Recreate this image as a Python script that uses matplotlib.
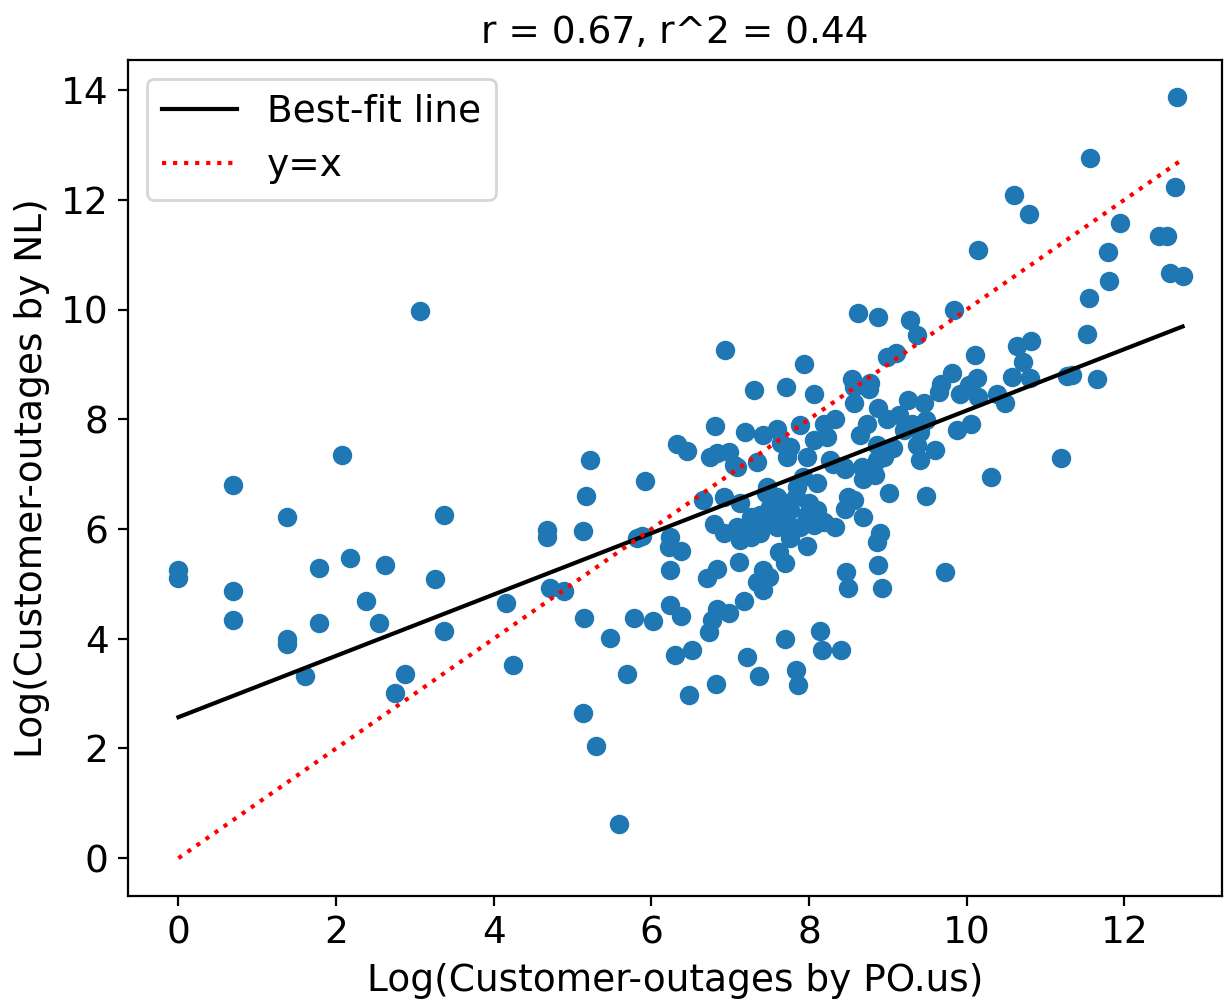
import matplotlib
matplotlib.use("Agg")
import matplotlib.pyplot as plt
import numpy as np

plt.rcParams['font.size'] = 13.5

# log customer-outages, PO.us (x) vs NL (y)
x_po = [
    # low end
    0.00, 0.00, 0.69, 0.69, 0.69, 1.38, 1.38, 1.38, 1.60, 1.78, 1.78, 2.08, 2.18, 2.38,
    2.55, 2.62, 2.75, 2.88, 3.07, 3.25, 3.37, 3.37, 4.16, 4.25, 4.68, 4.68, 4.72, 4.89,
    5.22, 5.17, 5.13, 5.15, 5.13, 5.30, 5.48, 5.69, 5.59, 5.78, 5.82, 5.88, 5.92, 6.02,
    # upper middle
    6.94, 7.94, 8.62, 8.88, 8.99, 9.10,
    7.30, 7.71, 8.06, 8.55, 8.78, 8.57, 8.76, 8.57, 8.88, 8.99, 9.14,
    6.81, 7.19, 7.42, 7.59, 7.89, 8.19, 8.33, 8.74, 8.65, 8.06, 8.23,
    6.32, 6.45, 6.74, 6.83, 6.98,
    7.05, 7.34, 7.64, 7.76, 7.72, 7.97, 8.27, 8.44, 8.31,
    8.86, 9.07, 8.95, 8.86, 8.46, 8.67, 8.69, 8.84, 9.01, 8.50, 8.57, 8.46, 8.69,
    # dense cluster
    7.09, 8.10, 7.47, 7.85, 7.93,
    6.66, 6.92, 7.13, 7.45, 7.60, 7.72, 7.83, 7.51, 7.64, 7.76, 8.00, 8.10, 7.97, 8.19,
    8.06, 8.33, 7.26, 7.38, 7.30, 7.47, 7.59, 7.76, 7.89, 6.79, 6.92, 7.09, 7.13, 7.26,
    7.38, 7.76, 7.97, 7.62, 7.70, 7.11, 6.83, 6.71, 7.42, 7.49, 7.34, 7.42,
    8.47, 8.49, 8.90, 8.86, 6.24, 6.22, 6.37, 6.24, 8.88, 8.93, 9.72,
    # lower middle
    6.24, 6.37, 6.83, 6.98, 6.77, 6.73, 7.17, 8.14, 7.69, 8.17, 8.40, 6.30, 6.52, 7.21,
    7.36, 7.84, 7.86, 6.82, 6.48,
    # high end
    12.67, 11.57, 12.65, 10.60, 10.79, 11.94, 12.44, 12.54, 10.14, 11.79, 11.81, 12.58,
    12.74, 11.55, 9.28, 9.37, 9.84, 11.53, 10.64, 10.82, 10.10, 10.72, 9.81, 10.58,
    10.80, 11.27, 11.34, 11.65, 9.67, 9.65, 10.13, 10.03, 9.92, 9.25, 9.46, 10.15,
    10.39, 10.49, 9.31, 9.48, 9.20, 9.41, 9.88, 10.05, 9.37, 9.60, 9.41, 11.20, 10.31,
    9.49,
]
y_nl = [
    5.25, 5.11, 6.81, 4.87, 4.35, 6.22, 3.99, 3.91, 3.32, 5.29, 4.29, 7.35, 5.47, 4.69,
    4.29, 5.35, 3.01, 3.36, 9.97, 5.09, 6.25, 4.14, 4.66, 3.52, 5.98, 5.86, 4.92, 4.87,
    7.25, 6.60, 5.97, 4.38, 2.64, 2.05, 4.01, 3.36, 0.62, 4.38, 5.84, 5.88, 6.88, 4.32,
    9.27, 9.00, 9.94, 9.87, 9.14, 9.20,
    8.53, 8.59, 8.47, 8.74, 8.66, 8.59, 8.56, 8.29, 8.20, 8.01, 8.08,
    7.87, 7.77, 7.71, 7.83, 7.89, 7.92, 8.01, 7.92, 7.71, 7.62, 7.68,
    7.55, 7.42, 7.32, 7.39, 7.41,
    7.16, 7.22, 7.56, 7.50, 7.32, 7.32, 7.26, 7.13, 7.19,
    7.53, 7.47, 7.32, 7.26, 7.10, 7.13, 6.92, 6.98, 6.66, 6.59, 6.53, 6.37, 6.22,
    7.13, 6.83, 6.77, 6.77, 6.95,
    6.53, 6.59, 6.47, 6.65, 6.59, 6.47, 6.59, 6.40, 6.28, 6.34, 6.47, 6.34, 6.25, 6.13,
    6.07, 6.04, 6.22, 6.25, 6.04, 6.13, 6.04, 6.04, 6.04, 6.10, 5.92, 6.04, 5.80, 5.86,
    5.92, 5.83, 5.69, 5.58, 5.38, 5.40, 5.28, 5.10, 5.25, 5.13, 5.04, 4.89,
    5.22, 4.92, 5.92, 5.77, 5.86, 5.67, 5.60, 5.26, 5.34, 4.92, 5.22,
    4.61, 4.41, 4.55, 4.47, 4.34, 4.13, 4.68, 4.14, 4.00, 3.79, 3.79, 3.70, 3.79, 3.67,
    3.32, 3.43, 3.15, 3.17, 2.98,
    13.87, 12.77, 12.24, 12.09, 11.74, 11.58, 11.34, 11.34, 11.08, 11.05, 10.52, 10.66,
    10.61, 10.21, 9.81, 9.53, 9.99, 9.55, 9.34, 9.43, 9.17, 9.05, 8.84, 8.77,
    8.76, 8.79, 8.80, 8.74, 8.64, 8.50, 8.75, 8.62, 8.47, 8.35, 8.29, 8.41,
    8.47, 8.29, 7.92, 7.98, 7.80, 7.77, 7.80, 7.92, 7.53, 7.44, 7.26, 7.29, 6.94,
    6.60,
]

# least-squares fit and correlation
fit_slope = 0.559
fit_intercept = 2.57
r_value = 0.67
r_squared = 0.44

x = np.array(x_po)
y = np.array(y_nl)
x_line = np.array([x.min(), x.max()])

fig = plt.figure(figsize=(6.125, 5), dpi=200)
ax = fig.add_axes([128 / 1225, 104 / 1000, 1094 / 1225, 836 / 1000])

ax.scatter(x, y)
ax.plot(x_line, fit_intercept + fit_slope * x_line, color='k', label='Best-fit line')
ax.plot(x_line, x_line, color='r', linestyle=':', label='y=x')

ax.set_xlim(-0.64, 13.24)
ax.set_ylim(-0.69, 14.55)
ax.set_xlabel('Log(Customer-outages by PO.us)')
ax.set_ylabel('Log(Customer-outages by NL)')
ax.set_title('r = %.2f, r^2 = %.2f' % (r_value, r_squared), fontsize=13.5)
ax.legend(loc='upper left')

fig.savefig('out.png', dpi=200)
